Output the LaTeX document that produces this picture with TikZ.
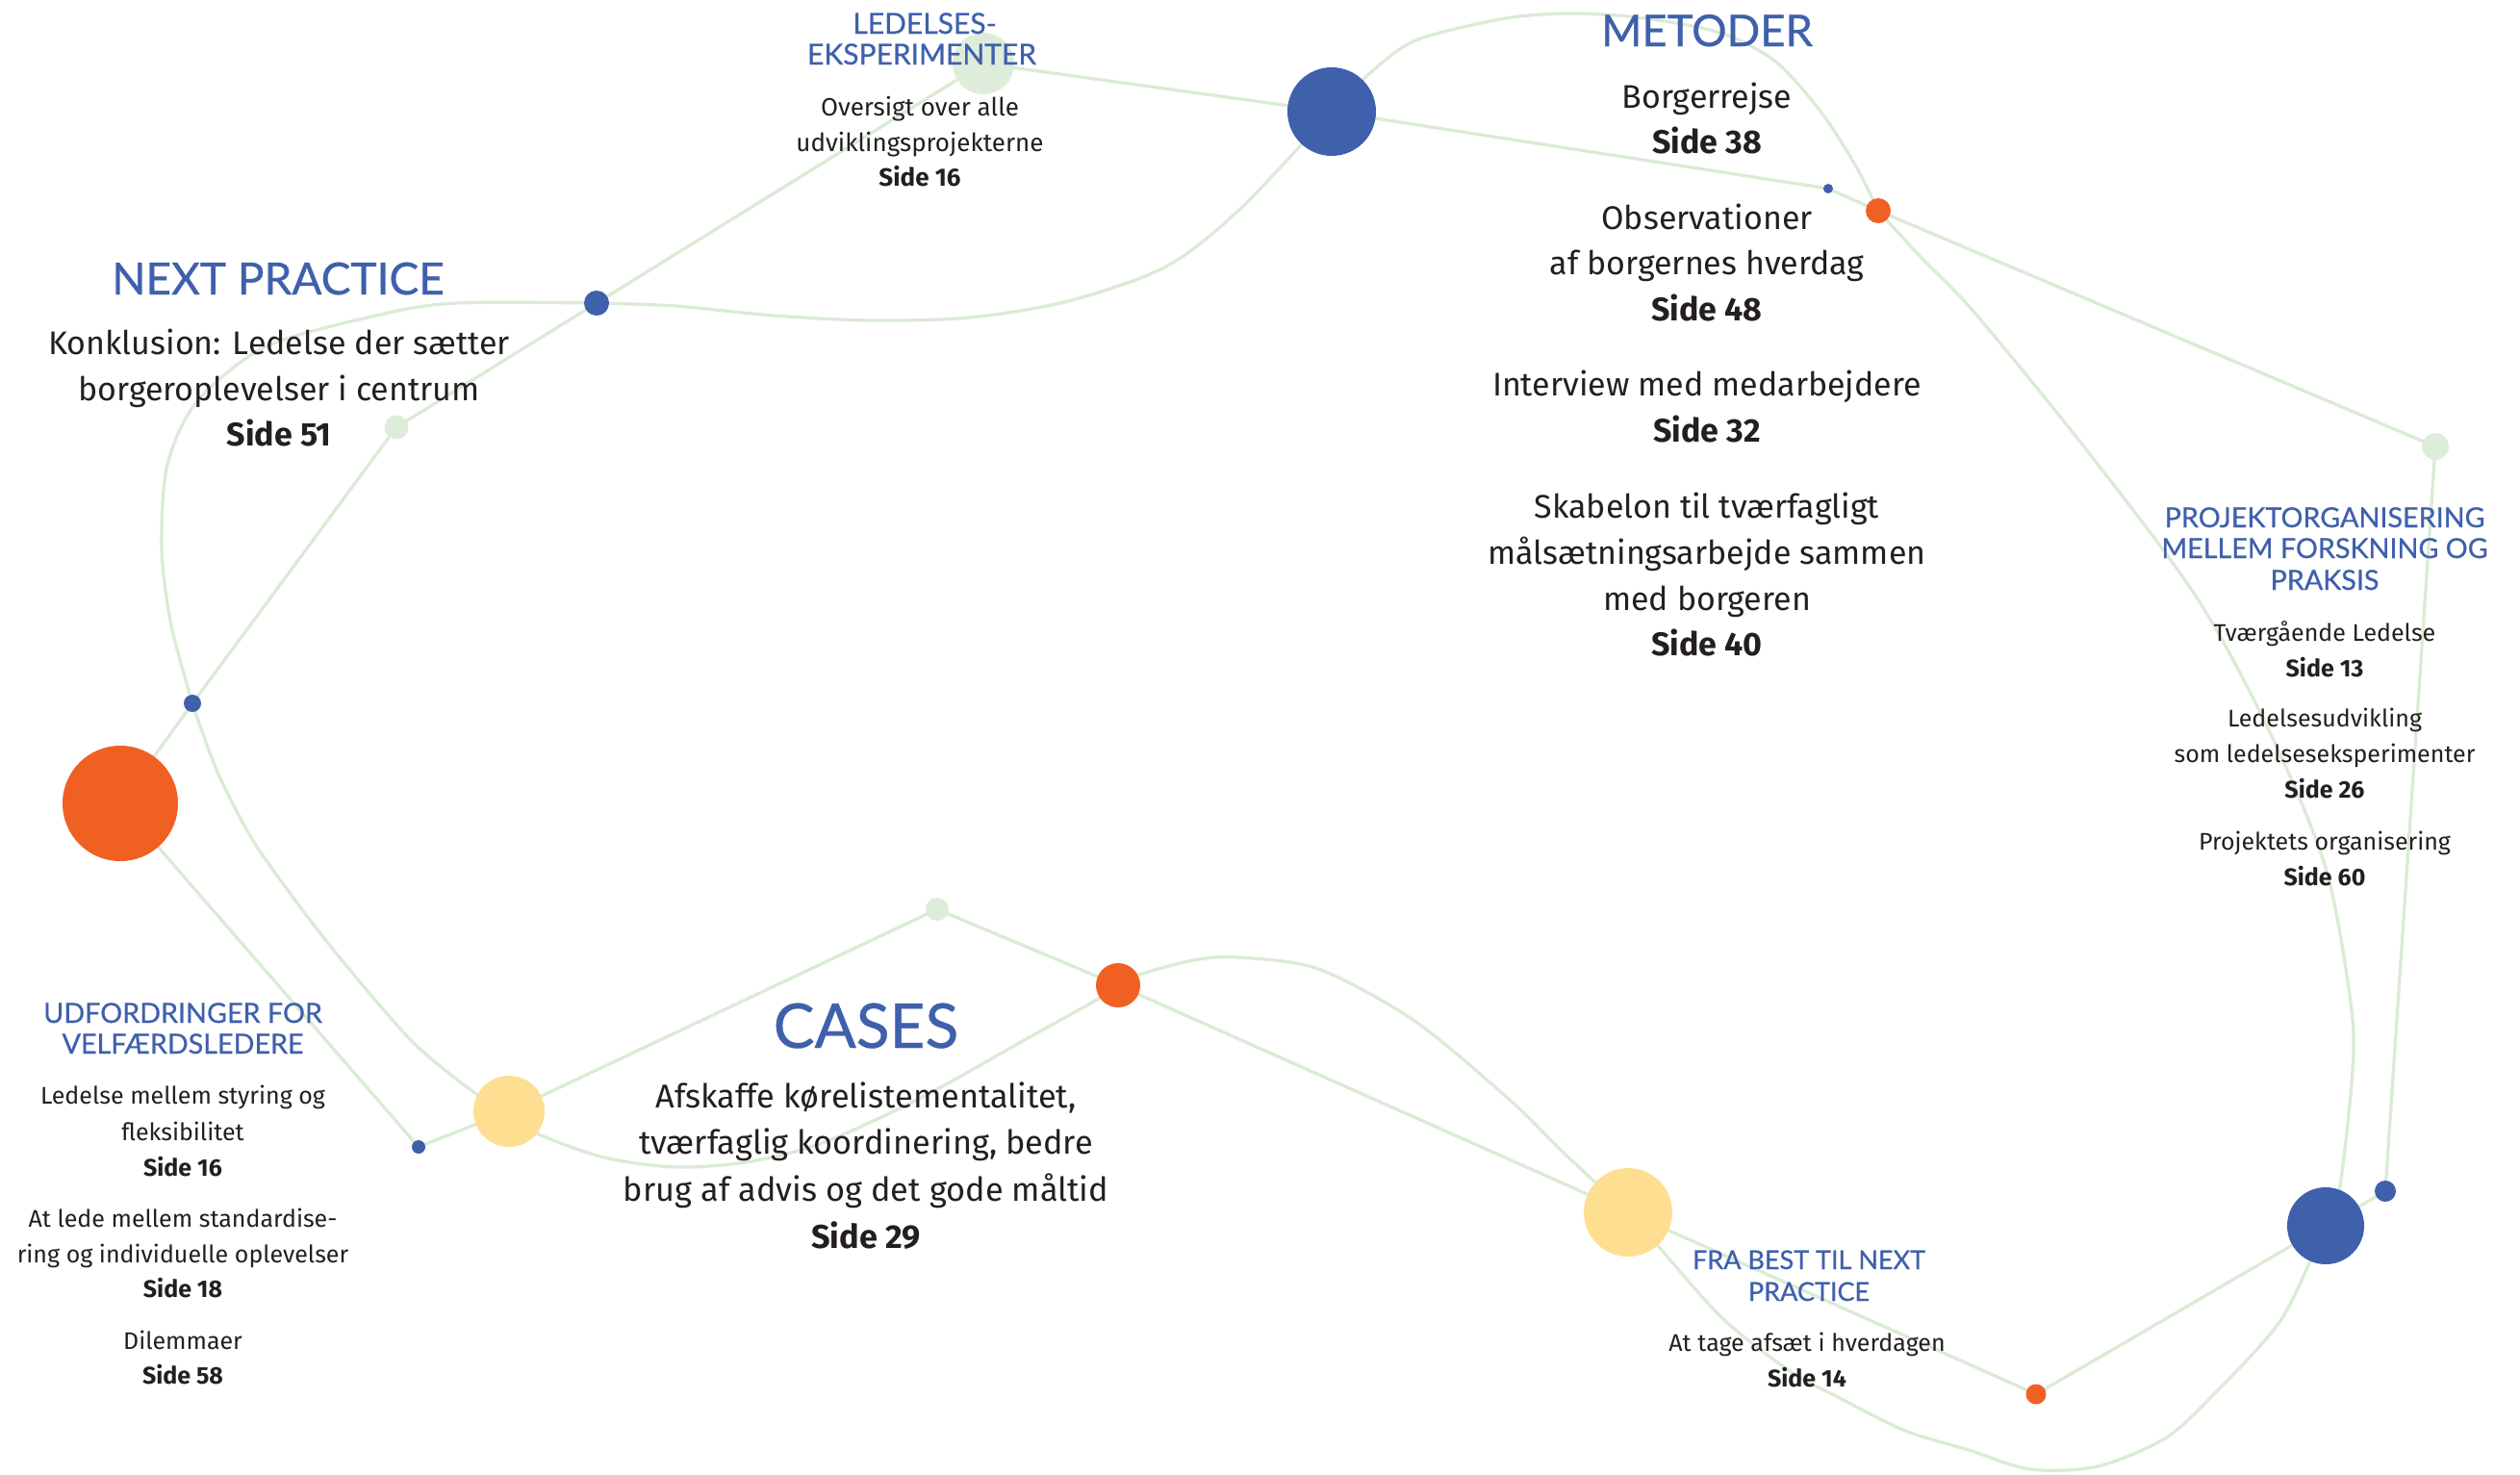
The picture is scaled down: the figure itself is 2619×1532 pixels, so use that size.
\documentclass[tikz,border=0pt]{standalone}
\usepackage{fontspec}
\usepackage{graphicx}
\usetikzlibrary{backgrounds}
\setmainfont{Fira Sans}
\newfontfamily\headfont{Lato}[FakeBold=0.6]
\newfontfamily\bodyfont{Fira Sans}
\definecolor{cblue}{RGB}{63,96,171}
\definecolor{corange}{RGB}{241,96,35}
\definecolor{cyellow}{RGB}{254,223,145}
\definecolor{cgreen}{RGB}{221,237,218}
\definecolor{cline}{RGB}{218,235,214}
\definecolor{ctext}{RGB}{35,31,32}
\tikzset{
  bluedot/.style={circle,fill=cblue,inner sep=0pt,minimum size=#1},
  orangedot/.style={circle,fill=corange,inner sep=0pt,minimum size=#1},
  yellowdot/.style={circle,fill=cyellow,inner sep=0pt,minimum size=#1},
  greendot/.style={circle,fill=cgreen,inner sep=0pt,minimum size=#1},
  link/.style={draw=cline,line width=3.3pt,line cap=round,line join=round},
  hd/.style={anchor=base,inner sep=0pt,text=cblue,font=\headfont\fontsize{#1}{#1}\selectfont},
  tx/.style={anchor=base,inner sep=0pt,text=ctext,font=\bodyfont\fontsize{#1}{#1}\selectfont},
  sd/.style={anchor=base,inner sep=0pt,text=ctext,font=\bodyfont\bfseries\fontsize{#1}{#1}\selectfont},
}
\begin{document}
\begin{tikzpicture}[x=1pt,y=-1pt]
\useasboundingbox (0,0) rectangle (2619,1532);

% circles
\node[greendot=64]  (A) at (1022,66) {};
\node[bluedot=92]   (B) at (1384,116) {};
\node[bluedot=10]   (C) at (1900,196) {};
\node[orangedot=26] (D) at (1952,219) {};
\node[greendot=28]  (E) at (2531,464) {};
\node[bluedot=22]   (F) at (2479,1238) {};
\node[bluedot=80]   (G) at (2417,1274) {};
\node[orangedot=21] (H) at (2116,1449) {};
\node[yellowdot=92] (I) at (1692,1260) {};
\node[orangedot=46] (J) at (1162,1024) {};
\node[greendot=24]  (K) at (974,945) {};
\node[yellowdot=74] (L) at (529,1155) {};
\node[bluedot=14]   (M) at (435,1192) {};
\node[orangedot=120] (N) at (125,835) {};
\node[bluedot=18]   (O) at (200,731) {};
\node[greendot=25]  (P) at (412,444) {};
\node[bluedot=26]   (Q) at (620,315) {};

% connectors, behind the circles
\begin{pgfonlayer}{background}
\fill[white] (0,0) rectangle (2619,1532);
\draw[link] (A.center) -- (B.center) -- (C.center) -- (D.center) -- (E.center) -- (F.center) -- (G.center) -- (H.center) -- (I.center) -- (J.center) -- (K.center) -- (L.center) -- (M.center) -- (N.center) -- (O.center) -- (P.center) -- (Q.center) -- (A.center);
\draw[link] plot[smooth] coordinates {(O.center) (178,650) (168,570) (174,483) (205,417) (277,360) (395,327) (474,315) (Q.center)};
\draw[link] plot[smooth] coordinates {(Q.center) (702,318) (804,328) (906,333) (1008,330) (1110,313) (1212,277) (1289,217) (B.center)};
\draw[link] plot[smooth] coordinates {(O.center) (225,800) (262,872) (310,940) (357,1000) (429,1083) (495,1137) (L.center)};
\draw[link] plot[smooth] coordinates {(L.center) (556,1177) (628,1203) (704,1213) (781,1207) (857,1187) (959,1140) (1061,1083) (1138,1040) (J.center)};
\draw[link] plot[smooth] coordinates {(J.center) (1184,1013) (1240,998) (1286,995) (1370,1007) (1470,1061) (1570,1144) (1627,1200) (I.center)};
\draw[link] plot[smooth] coordinates {(I.center) (1725,1297) (1790,1370) (1860,1425) (1912,1453) (1980,1487) (2046,1507) (2110,1527) (2180,1524) (2250,1495) (2300,1450) (2367,1377) (2400,1313) (G.center)};
\draw[link] plot[smooth] coordinates {(G.center) (2432,1232) (2445,1112) (2443,1042) (2417,902) (2359,761) (2283,621) (2168,467) (2053,326) (1996,267) (D.center)};
\draw[link] plot[smooth] coordinates {(D.center) (1929,173) (1893,117) (1849,67) (1804,40) (1759,27) (1692,17) (1625,14) (1559,20) (1469,43) (1416,83) (B.center)};
\end{pgfonlayer}

% LEDELSESEKSPERIMENTER
\node[hd=30] (le1) at (961,35) {LEDELSES-};
\node[hd=30] (le2) at (958,67) {EKSPERIMENTER};
\node[tx=26] (le3) at (956,120) {Oversigt over alle};
\node[tx=26] (le4) at (956,157) {udviklingsprojekterne};
\node[sd=26] (le5) at (956,193) {Side 16};

% METODER
\node[hd=45.5] (me0) at (1774,48) {METODER};
\node[tx=34] (me1) at (1774,112) {Borgerrejse};
\node[sd=34] (me2) at (1774,159) {Side 38};
\node[tx=34] (me3) at (1774,238) {Observationer};
\node[tx=34] (me4) at (1774,285) {af borgernes hverdag};
\node[sd=34] (me5) at (1774,333) {Side 48};
\node[tx=34] (me6) at (1774,411) {Interview med medarbejdere};
\node[sd=34] (me7) at (1774,459) {Side 32};
\node[tx=34] (me8) at (1774,538) {Skabelon til tværfagligt};
\node[tx=34] (me9) at (1774,586) {målsætningsarbejde sammen};
\node[tx=34] (me10) at (1774,634) {med borgeren};
\node[sd=34] (me11) at (1774,681) {Side 40};

% NEXT PRACTICE
\node[hd=46] (np0) at (289,306) {NEXT PRACTICE};
\node[tx=34] (np1) at (290,368) {Konklusion: Ledelse der sætter};
\node[tx=34] (np2) at (290,416) {borgeroplevelser i centrum};
\node[sd=34] (np3) at (290,463) {Side 51};

% UDFORDRINGER
\node[hd=28.7] (ud0) at (190,1063) {UDFORDRINGER FOR};
\node[hd=28.7] (ud1) at (190,1095) {VELFÆRDSLEDERE};
\node[tx=25] (ud2) at (190,1147) {Ledelse mellem styring og};
\node[tx=25] (ud3) at (190,1185) {fleksibilitet};
\node[sd=25] (ud4) at (190,1222) {Side 16};
\node[tx=25] (ud5) at (190,1275) {At lede mellem standardise-};
\node[tx=25] (ud6) at (190,1312) {ring og individuelle oplevelser};
\node[sd=25] (ud7) at (190,1348) {Side 18};
\node[tx=25] (ud8) at (190,1402) {Dilemmaer};
\node[sd=25] (ud9) at (190,1438) {Side 58};

% CASES
\node[hd=64] (ca0) at (900,1089) {CASES};
\node[tx=34.3] (ca1) at (900,1151) {Afskaffe kørelistementalitet,};
\node[tx=34.3] (ca2) at (900,1199) {tværfaglig koordinering, bedre};
\node[tx=34.3] (ca3) at (900,1248) {brug af advis og det gode måltid};
\node[sd=34.3] (ca4) at (900,1297) {Side 29};

% FRA BEST TIL NEXT PRACTICE
\node[hd=27] (fr0) at (1880,1319) {FRA BEST TIL NEXT};
\node[hd=27] (fr1) at (1880,1352) {PRACTICE};
\node[tx=25] (fr2) at (1878,1404) {At tage afsæt i hverdagen};
\node[sd=25] (fr3) at (1878,1441) {Side 14};

% PROJEKTORGANISERING
\node[hd=28.7] (pr0) at (2416,548) {PROJEKTORGANISERING};
\node[hd=28.7] (pr1) at (2416,580) {MELLEM FORSKNING OG};
\node[hd=28.7] (pr2) at (2416,613) {PRAKSIS};
\node[tx=25] (pr3) at (2416,666) {Tværgående Ledelse};
\node[sd=25] (pr4) at (2416,703) {Side 13};
\node[tx=25] (pr5) at (2416,755) {Ledelsesudvikling};
\node[tx=25] (pr6) at (2416,792) {som ledelseseksperimenter};
\node[sd=25] (pr7) at (2416,829) {Side 26};
\node[tx=25] (pr8) at (2416,883) {Projektets organisering};
\node[sd=25] (pr9) at (2416,920) {Side 60};
\end{tikzpicture}
\end{document}
